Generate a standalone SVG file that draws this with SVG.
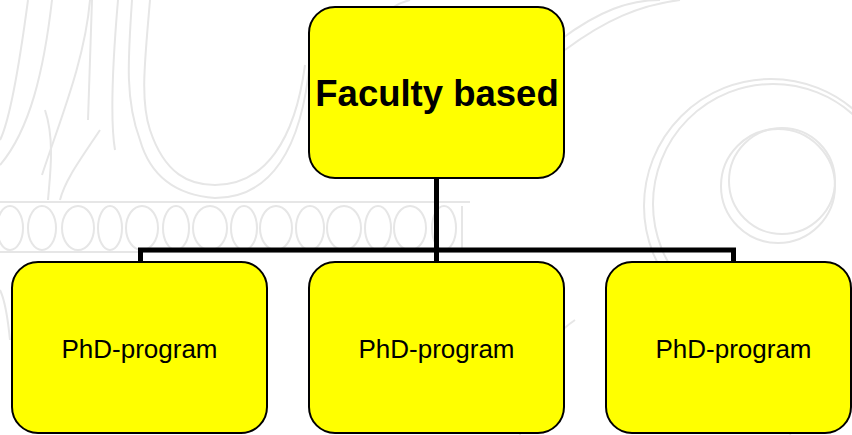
<svg xmlns="http://www.w3.org/2000/svg" width="852" height="435" viewBox="0 0 852 435">
  <style>
    .bg { fill: none; stroke: #e6e6e6; stroke-width: 2; }
    .box { fill: #ffff00; stroke: #000000; stroke-width: 2; }
    .conn { fill: none; stroke: #000000; stroke-width: 5; }
    .title { font-family: "Liberation Sans", Arial, sans-serif; font-size: 36.5px; font-weight: bold; fill: #000000; }
    .label { font-family: "Liberation Sans", Arial, sans-serif; font-size: 26px; fill: #000000; }
  </style>
  <rect x="0" y="0" width="852" height="435" fill="#ffffff"/>
  <g id="background">
    <path class="bg" d="M28 0 C20 60 10 120 0 140"/>
    <path class="bg" d="M52 0 C44 70 30 130 0 165"/>
    <path class="bg" d="M90 0 C85 60 60 120 42 175"/>
    <path class="bg" d="M92 0 L90 60 L88 120"/>
    <path class="bg" d="M118 0 C112 70 110 120 115 150"/>
    <path class="bg" d="M132 0 C128 60 125 100 140 140 C150 175 175 195 215 198 C270 198 302 150 310 60"/>
    <path class="bg" d="M150 0 C145 60 140 100 150 130 C165 175 190 185 215 185 C265 185 295 140 305 65"/>
    <path class="bg" d="M45 110 C55 140 50 175 48 200"/>
    <path class="bg" d="M100 130 C80 160 65 180 60 200"/>
    <line class="bg" x1="0" y1="202" x2="470" y2="202"/>
    <line class="bg" x1="0" y1="252" x2="470" y2="252"/>
    <g>
      <ellipse class="bg" cx="10" cy="228" rx="13" ry="22"/>
      <ellipse class="bg" cx="42" cy="228" rx="14" ry="22"/>
      <ellipse class="bg" cx="78" cy="228" rx="16" ry="22"/>
      <ellipse class="bg" cx="110" cy="228" rx="12" ry="22"/>
      <ellipse class="bg" cx="142" cy="228" rx="16" ry="22"/>
      <ellipse class="bg" cx="176" cy="228" rx="13" ry="22"/>
      <ellipse class="bg" cx="210" cy="228" rx="17" ry="22"/>
      <ellipse class="bg" cx="244" cy="228" rx="13" ry="22"/>
      <ellipse class="bg" cx="276" cy="228" rx="16" ry="22"/>
      <ellipse class="bg" cx="310" cy="228" rx="14" ry="22"/>
      <ellipse class="bg" cx="344" cy="228" rx="17" ry="22"/>
      <ellipse class="bg" cx="378" cy="228" rx="13" ry="22"/>
      <ellipse class="bg" cx="410" cy="228" rx="16" ry="22"/>
      <ellipse class="bg" cx="444" cy="228" rx="12" ry="22"/>
      <line class="bg" x1="462" y1="206" x2="462" y2="250"/>
    </g>
    <path class="bg" d="M380 60 C370 20 390 5 410 0"/>
    <path class="bg" d="M560 40 C600 10 630 0 660 0"/>
    <path class="bg" d="M565 50 C605 20 640 5 680 0"/>
    <circle class="bg" cx="771" cy="206" r="127"/>
    <circle class="bg" cx="773" cy="204" r="120"/>
    <circle class="bg" cx="778" cy="186" r="57"/>
    <circle class="bg" cx="782" cy="181" r="53"/>
    <path class="bg" d="M520 435 C525 380 545 340 575 320"/>
    <path class="bg" d="M790 435 C800 400 820 380 852 370"/>
    <path class="bg" d="M0 290 C5 300 8 320 10 340"/>
  </g>
  <g id="connectors">
    <path class="conn" d="M436.5 178 V250"/>
    <path class="conn" d="M140.5 262 V250 H733.5 V262"/>
    <path class="conn" d="M436.5 250 V262"/>
  </g>
  <g id="node-faculty">
    <rect class="box" x="309" y="7" width="255" height="171" rx="26" ry="26"/>
    <text class="title" x="437" y="106" text-anchor="middle">Faculty based</text>
  </g>
  <g id="node-phd-1">
    <rect class="box" x="12" y="262" width="255" height="171" rx="26" ry="26"/>
    <text class="label" x="139.5" y="358" text-anchor="middle">PhD-program</text>
  </g>
  <g id="node-phd-2">
    <rect class="box" x="309" y="262" width="255" height="171" rx="26" ry="26"/>
    <text class="label" x="436.5" y="358" text-anchor="middle">PhD-program</text>
  </g>
  <g id="node-phd-3">
    <rect class="box" x="606" y="262" width="245" height="171" rx="26" ry="26"/>
    <text class="label" x="733.5" y="358" text-anchor="middle">PhD-program</text>
  </g>
</svg>
